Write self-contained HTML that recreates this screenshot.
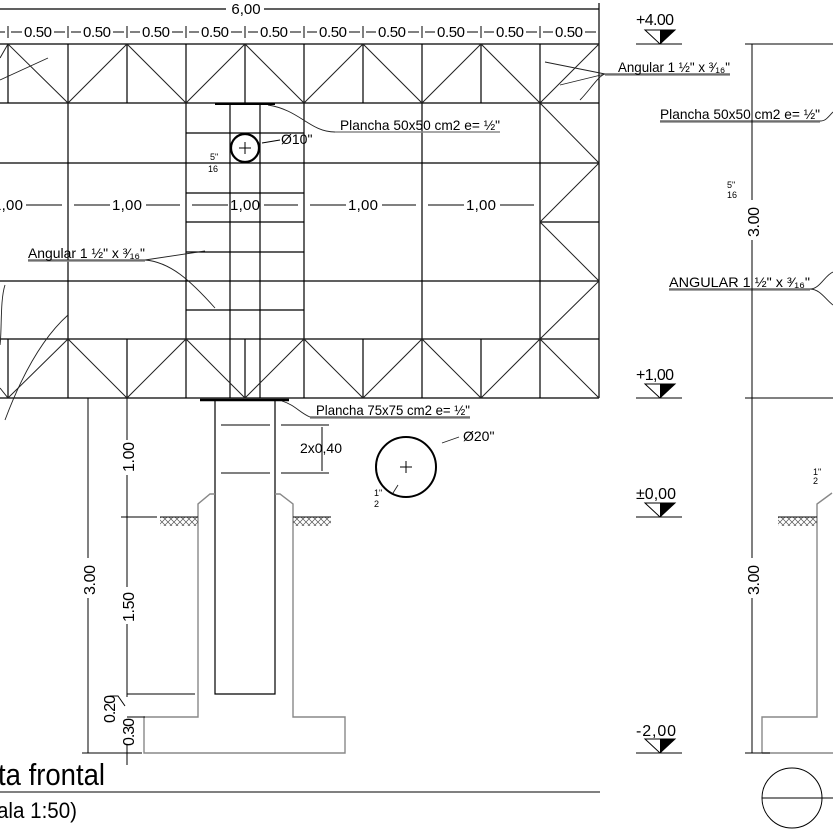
<!DOCTYPE html>
<html><head><meta charset="utf-8"><style>
html,body{margin:0;padding:0;background:#fff;width:833px;height:833px;overflow:hidden}
svg{display:block}
text{font-family:"Liberation Sans Narrow","Liberation Sans",sans-serif;fill:#000}
</style></head><body>
<svg width="833" height="833" viewBox="0 0 833 833" xmlns="http://www.w3.org/2000/svg">
<defs>
<pattern id="h" width="6" height="6" patternUnits="userSpaceOnUse"><path d="M0 6L6 0M0 0L6 6" stroke="#555" stroke-width="0.7"/></pattern>
</defs>
<g stroke="#000" stroke-width="1.2" fill="none">
<line x1="0" y1="9" x2="226" y2="9"/><line x1="264" y1="9" x2="599" y2="9"/>
<line x1="599" y1="3" x2="599" y2="44"/>
<line x1="0" y1="44" x2="599" y2="44"/>
<line x1="0" y1="103" x2="599" y2="103"/>
<line x1="0" y1="163" x2="599" y2="163"/>
<line x1="0" y1="281" x2="599" y2="281"/>
<line x1="0" y1="339" x2="599" y2="339"/>
<line x1="0" y1="398" x2="599" y2="398"/>
<line x1="540" y1="222" x2="599" y2="222"/>
<line x1="68" y1="44" x2="68" y2="398"/>
<line x1="186" y1="44" x2="186" y2="398"/>
<line x1="304" y1="44" x2="304" y2="398"/>
<line x1="422" y1="44" x2="422" y2="398"/>
<line x1="540" y1="44" x2="540" y2="398"/>
<line x1="599" y1="44" x2="599" y2="398"/>
<path d="M8 44V103M127 44V103M245 44V103M363 44V103M481 44V103M8 339V398M127 339V398M245 339V398M363 339V398M481 339V398"/>
<path d="M230 103V398M260 103V398M186 133H304M186 193H304M186 222H304M186 252H304M186 310H304"/>
</g>
<!-- 0.50 dims ticks -->
<g stroke="#000" stroke-width="1">
<path d="M8 26V38M68 26V38M127 26V38M186 26V38M245 26V38M304 26V38M363 26V38M422 26V38M481 26V38M540 26V38"/>
<path d="M0 32H5M11 32H22M54 32H65M71 32H81M113 32H124M130 32H140M172 32H183M189 32H199M231 32H242M248 32H258M290 32H301M307 32H317M349 32H360M366 32H376M408 32H419M425 32H435M467 32H478M484 32H494M526 32H537M543 32H553M585 32H596"/>
<path d="M26 205H62M74 205H110M146 205H180M192 205H228M264 205H298M310 205H346M382 205H416M428 205H464M500 205H534"/>
</g>
<g stroke="#222" stroke-width="1" fill="none">
<path d="M0 58L8 44L68 103L127 44L186 103L245 44L304 103L363 44L422 103L481 44L540 103L599 44"/>
<path d="M0 388L8 398L68 339L127 398L186 339L245 398L304 339L363 398L422 339L481 398L540 339L599 398"/>
<path d="M540 103L599 163L540 222L599 281L540 339"/>
<path d="M268 105C300 110 310 132 335 132H500" stroke-width="0.9"/>
<path d="M545 62L605 74M560 85L605 74M580 100C590 90 598 76 605 74H730" stroke-width="0.9"/>
<path d="M28 260H145C170 262 190 280 215 308M145 260L205 251" stroke-width="0.9"/>
<path d="M282 401C295 405 300 413 310 417H470" stroke-width="0.9"/>
<path d="M5 285C0 300 2 330 0 345M68 315C40 340 20 380 5 420" stroke-width="0.9"/>
<path d="M660 121H820C826 121 828 117 833 112" stroke-width="0.9"/>
<path d="M669 289H810C820 289 825 275 833 272M810 289C820 289 826 300 833 305" stroke-width="0.9"/>
<path d="M48 58L0 80" stroke-width="0.9"/>
<path d="M459 437L442 443M393 493L398 485" stroke-width="0.9"/>
</g>
<g stroke="#888" stroke-width="1.5"><line x1="28" y1="261" x2="145" y2="261"/><line x1="660" y1="122" x2="820" y2="122"/><line x1="669" y1="290" x2="810" y2="290"/><line x1="605" y1="75" x2="730" y2="75"/><line x1="310" y1="418" x2="470" y2="418"/><line x1="335" y1="132" x2="500" y2="132"/></g>
<line x1="215" y1="104" x2="275" y2="104" stroke="#000" stroke-width="2"/>
<line x1="200" y1="400" x2="289" y2="400" stroke="#000" stroke-width="2.5"/>
<circle cx="245" cy="148" r="14" fill="none" stroke="#000" stroke-width="2.2"/>
<path d="M239 148H251M245 142V154M400 467H412M406 461V473" stroke="#000" stroke-width="1"/>
<circle cx="406" cy="467" r="30" fill="none" stroke="#000" stroke-width="2"/>
<path d="M262 143L280 140" stroke="#000"/>
<g fill="none">
<path d="M215 400V694H275V400" stroke="#000" stroke-width="1.2"/>
<path d="M215 494H210L198 504V717H144V753H345V717H293V504L280 494H275" stroke="#888" stroke-width="1.4"/>
<path d="M221 425H270M281 425H329M221 473H270M281 473H329M322 427V471" stroke="#000" stroke-width="1"/>
<path d="M762 753V717H817V504L832 493M762 753H833" stroke="#888" stroke-width="1.4"/>
</g>
<rect x="160" y="517" width="38" height="9" fill="url(#h)"/><line x1="160" y1="517" x2="198" y2="517" stroke="#000"/>
<rect x="293" y="517" width="38" height="9" fill="url(#h)"/><line x1="293" y1="517" x2="331" y2="517" stroke="#000"/>
<rect x="778" y="517" width="39" height="9" fill="url(#h)"/><line x1="778" y1="517" x2="817" y2="517" stroke="#000"/>
<g stroke="#000" stroke-width="1" fill="none">
<path d="M88 398V558M88 598V753M82 753H142"/>
<path d="M127 398V440M127 475V587M127 624V697M127 745V765M121 517H157M127 694H195M127 717H145"/>
<path d="M110 696L118 696L125 706"/>
<path d="M752 44V200M752 240V398M745 44H833M745 398H833M752 398V558M752 598V753M745 753H770"/>
<path d="M0 792H600"/>
<path d="M636 44H682M636 398H682M636 517H682M636 753H682"/>
</g>
<g>
<path d="M645 30H675L660 44Z" fill="#fff" stroke="#000"/><path d="M660 30H675L660 44Z" fill="#000"/>
<path d="M645 384H675L660 398Z" fill="#fff" stroke="#000"/><path d="M660 384H675L660 398Z" fill="#000"/>
<path d="M645 503H675L660 517Z" fill="#fff" stroke="#000"/><path d="M660 503H675L660 517Z" fill="#000"/>
<path d="M645 739H675L660 753Z" fill="#fff" stroke="#000"/><path d="M660 739H675L660 753Z" fill="#000"/>
</g>
<circle cx="792" cy="798" r="30" fill="none" stroke="#000" stroke-width="1"/>
<line x1="762" y1="798" x2="833" y2="798" stroke="#000"/>
<g font-size="15" text-anchor="middle">
<text x="246" y="14">6,00</text>
<text x="38" y="37" textLength="28">0.50</text>
<text x="97" y="37" textLength="28">0.50</text>
<text x="156" y="37" textLength="28">0.50</text>
<text x="215" y="37" textLength="28">0.50</text>
<text x="274" y="37" textLength="28">0.50</text>
<text x="333" y="37" textLength="28">0.50</text>
<text x="392" y="37" textLength="28">0.50</text>
<text x="451" y="37" textLength="28">0.50</text>
<text x="510" y="37" textLength="28">0.50</text>
<text x="569" y="37" textLength="28">0.50</text>
<text x="8" y="210" textLength="30">1,00</text>
<text x="127" y="210" textLength="30">1,00</text>
<text x="245" y="210" textLength="30">1,00</text>
<text x="363" y="210" textLength="30">1,00</text>
<text x="481" y="210" textLength="30">1,00</text>
</g>
<g font-size="14">
<text x="28" y="258" textLength="117" lengthAdjust="spacingAndGlyphs">Angular 1 ½" x ³⁄₁₆"</text>
<text x="340" y="130" textLength="160" lengthAdjust="spacingAndGlyphs">Plancha 50x50 cm2 e= ½"</text>
<text x="281" y="144">Ø10"</text>
<text x="316" y="415" textLength="154" lengthAdjust="spacingAndGlyphs">Plancha 75x75 cm2 e= ½"</text>
<text x="463" y="441">Ø20"</text>
<text x="300" y="453" textLength="42">2x0,40</text>
<text x="618" y="72" textLength="112" lengthAdjust="spacingAndGlyphs">Angular 1 ½" x ³⁄₁₆"</text>
<text x="660" y="119" textLength="160" lengthAdjust="spacingAndGlyphs">Plancha 50x50 cm2 e= ½"</text>
<text x="669" y="287" textLength="141" lengthAdjust="spacingAndGlyphs">ANGULAR 1 ½" x ³⁄₁₆"</text>
<text x="636" y="25" font-size="16" textLength="38">+4.00</text>
<text x="636" y="380" font-size="16" textLength="38">+1,00</text>
<text x="636" y="499" font-size="16" textLength="40">±0,00</text>
<text x="636" y="736" font-size="16" textLength="40">-2,00</text>
</g>
<g font-size="9"><text x="210" y="160">5"</text><text x="208" y="172">16</text><text x="374" y="496">1"</text><text x="374" y="507">2</text><text x="727" y="188">5"</text><text x="727" y="198">16</text><text x="813" y="475">1"</text><text x="813" y="484">2</text></g>
<g font-size="16">
<text transform="translate(134,472) rotate(-90)" textLength="30">1.00</text>
<text transform="translate(95,595) rotate(-90)" textLength="30">3.00</text>
<text transform="translate(134,622) rotate(-90)" textLength="30">1.50</text>
<text transform="translate(115,723) rotate(-90)" textLength="28">0.20</text>
<text transform="translate(134,746) rotate(-90)" textLength="28">0.30</text>
<text transform="translate(759,237) rotate(-90)" textLength="30">3.00</text>
<text transform="translate(759,595) rotate(-90)" textLength="30">3.00</text>
</g>
<text x="-2" y="785" font-size="31" textLength="107" lengthAdjust="spacingAndGlyphs">ta frontal</text>
<text x="-3" y="818" font-size="22" textLength="80" lengthAdjust="spacingAndGlyphs">ala 1:50)</text>
</svg>
</body></html>
